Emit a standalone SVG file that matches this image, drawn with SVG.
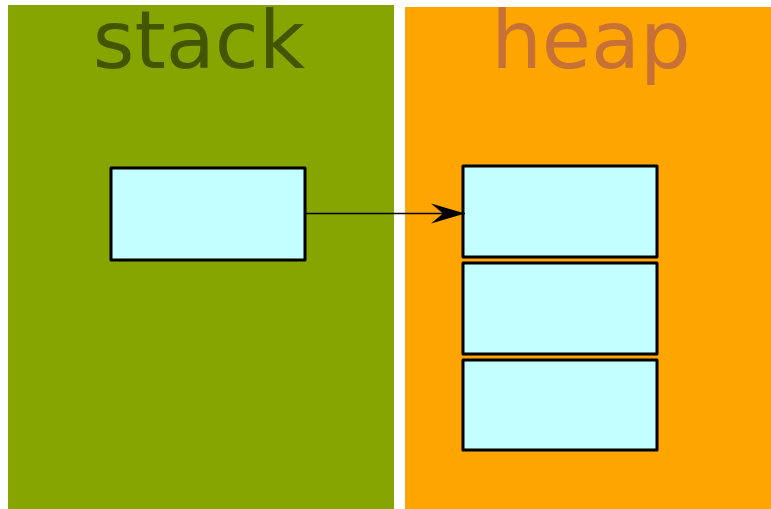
<svg xmlns="http://www.w3.org/2000/svg" width="771" height="509" viewBox="0 0 771 509">
  <style>
    .title { font-family: "DejaVu Sans", sans-serif; font-size: 80px; text-anchor: middle; }
    .cell { fill: #c4ffff; stroke: #000; stroke-width: 3; stroke-linejoin: round; }
    .link { fill: none; stroke: #000; stroke-width: 1.6; }
  </style>
  <defs>
    <marker id="arrow" markerUnits="userSpaceOnUse" markerWidth="40" markerHeight="30" refX="34" refY="10" orient="auto" viewBox="0 0 40 20">
      <path d="M34,10 L0,0 L12,10 L0,20 Z" fill="#000"/>
    </marker>
  </defs>

  <!-- memory regions -->
  <g id="stack">
    <rect x="8" y="5" width="386" height="504" fill="#86a500"/>
    <text class="title" x="199" y="68" fill="#445500">stack</text>
  </g>
  <g id="heap">
    <rect x="405" y="7" width="366" height="502" fill="#ffa500"/>
    <text class="title" x="591" y="68" fill="#c87137">heap</text>
  </g>

  <!-- cells -->
  <g id="stack-cell">
    <rect class="cell" x="111" y="168" width="194" height="92"/>
  </g>
  <g id="heap-cell-1">
    <rect class="cell" x="463" y="166" width="194" height="91"/>
  </g>
  <g id="heap-cell-2">
    <rect class="cell" x="463" y="263" width="194" height="91"/>
  </g>
  <g id="heap-cell-3">
    <rect class="cell" x="463" y="360" width="194" height="90"/>
  </g>

  <!-- pointer from stack to heap -->
  <g id="connectors">
    <path class="link" d="M305,213.5 L465,213.5" marker-end="url(#arrow)"/>
  </g>
</svg>
